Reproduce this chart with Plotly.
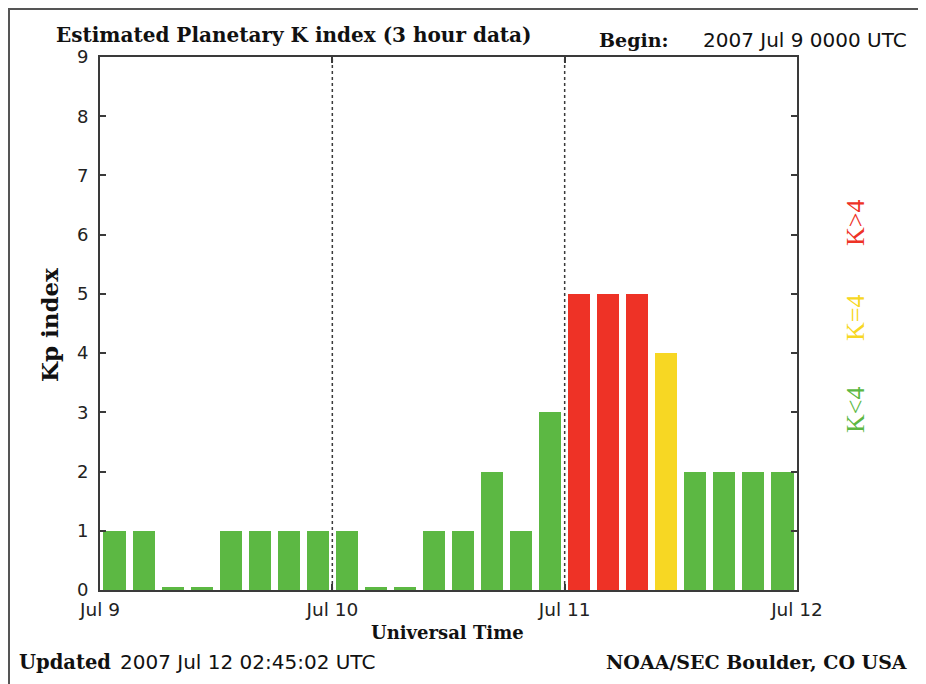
import numpy as np
import plotly.graph_objects as go

# ---- data ----
kp_values = [1, 1, 0, 0, 1, 1, 1, 1,
             1, 0, 0, 1, 1, 2, 1, 3,
             5, 5, 5, 4, 2, 2, 2, 2]
day_labels = ["Jul 9", "Jul 10", "Jul 11", "Jul 12"]
y_ticks = list(range(0, 10))
slots_per_day = 8

GREEN = "#5cb843"
YELLOW = "#f7d723"
RED = "#ee3226"

kp = np.array(kp_values, dtype=float)
x = np.arange(len(kp)) + 0.5
colors = [RED if v > 4 else (YELLOW if v == 4 else GREEN) for v in kp]
display_h = np.maximum(kp, 0.05)

SERIF = "DejaVu Serif"
SANS = "DejaVu Sans"
AX = "#3a3a3a"

# page offset (browser body margin)
OFF = 8
W, H = 926 - OFF, 684 - OFF
# plot area in page pixels
PL, PR, PT, PB = 100, 797, 57, 590
L, T = PL - OFF, PT - OFF
R, B = W - (PR - OFF), H - (PB - OFF)
PW, PH = PR - PL, PB - PT

def px(xp):
    return (xp - PL) / PW

def py(yp):
    return (PB - yp) / PH

fig = go.Figure()
fig.add_trace(go.Bar(x=x, y=display_h, width=0.76, marker=dict(color=colors, line=dict(width=0)),
                     customdata=kp, hovertemplate="Kp=%{customdata}<extra></extra>"))

# day separators
for d in range(1, len(day_labels) - 1):
    fig.add_shape(type="line", xref="x", yref="paper", x0=d * slots_per_day, x1=d * slots_per_day,
                  y0=0, y1=1, line=dict(color=AX, width=1.5, dash="dot"), layer="above")

fig.update_layout(
    width=W, height=H,
    margin=dict(l=L, r=R, t=T, b=B),
    paper_bgcolor="white", plot_bgcolor="white",
    showlegend=False, bargap=0,
    xaxis=dict(range=[0, len(kp)], tickvals=[i * slots_per_day for i in range(len(day_labels))],
               ticktext=day_labels, showgrid=False, zeroline=False,
               showline=True, linecolor=AX, linewidth=2, mirror="ticks",
               ticks="inside", ticklen=6, tickcolor=AX, tickwidth=1.5,
               ticklabelstandoff=2,
               tickfont=dict(family=SANS, size=18.5, color="#222")),
    yaxis=dict(range=[0, 9], tickvals=y_ticks, showgrid=False, zeroline=False,
               showline=True, linecolor=AX, linewidth=2, mirror="ticks",
               ticks="inside", ticklen=6, tickcolor=AX, tickwidth=1.5,
               ticklabelstandoff=6,
               tickfont=dict(family=SANS, size=18, color="#222")),
)

ann = []
def add(text, xp, yp, size, family, color="#111", xanchor="left", angle=0, bold=False):
    t = f"<b>{text}</b>" if bold else text
    ann.append(dict(text=t, x=px(xp), y=py(yp), xref="paper", yref="paper", showarrow=False,
                    xanchor=xanchor, yanchor="middle", textangle=angle,
                    font=dict(family=family, size=size, color=color)))

add("Estimated Planetary K index (3 hour data)", 54, 35, 20, SERIF, bold=True)
add("Begin:", 597, 40, 19, SERIF, bold=True)
add("2007 Jul 9 0000 UTC", 909, 40, 20, SANS, xanchor="right")
add("Kp index", 49, 325, 23, SERIF, xanchor="center", angle=-90, bold=True)
add("Universal Time", 447, 632, 18, SERIF, xanchor="center", bold=True)
add("Updated", 17, 662, 19.5, SERIF, bold=True)
add("2007 Jul 12 02:45:02 UTC", 118, 662, 20, SANS)
add("NOAA/SEC Boulder, CO USA", 909, 662, 19, SERIF, xanchor="right", bold=True)
add("K&gt;4", 855, 223, 26, "Liberation Serif", color=RED, xanchor="center", angle=-90)
add("K=4", 855, 318, 26, "Liberation Serif", color=YELLOW, xanchor="center", angle=-90)
add("K&lt;4", 855, 410, 26, "Liberation Serif", color=GREEN, xanchor="center", angle=-90)
fig.update_layout(annotations=ann)

# outer frame (as close to the page edge as the figure allows)
fig.add_shape(type="rect", xref="paper", yref="paper",
              x0=px(OFF + 1), x1=px(920), y0=py(710), y1=py(OFF + 1),
              line=dict(color="#555", width=2), layer="below")

fig.write_html("out.html")
